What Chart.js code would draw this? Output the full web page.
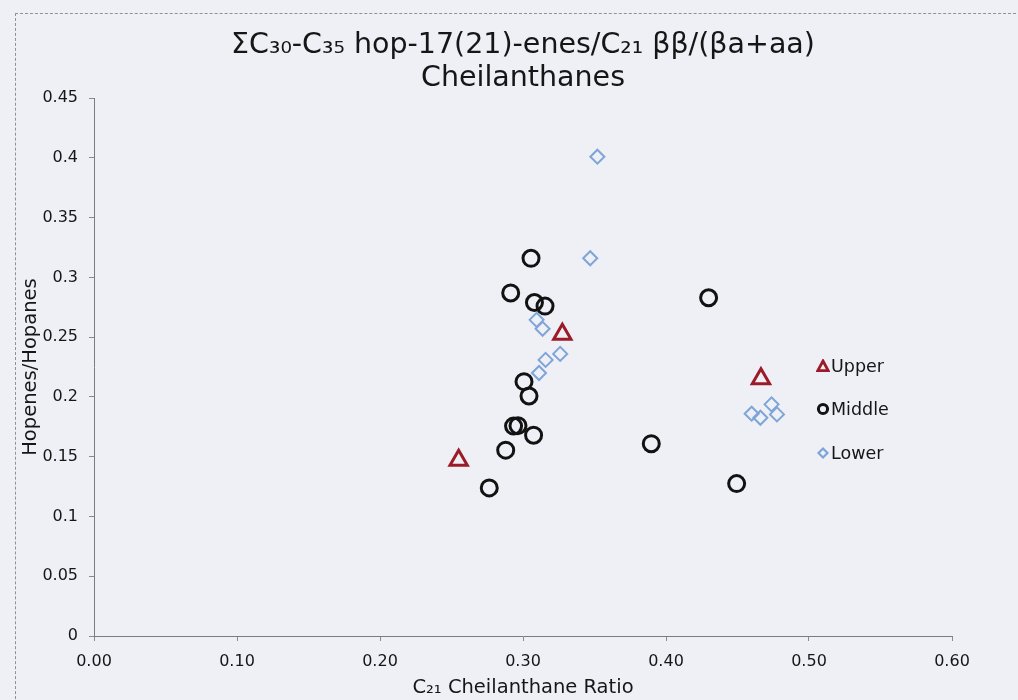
<!DOCTYPE html>
<html><head><meta charset="utf-8">
<script src="https://cdn.jsdelivr.net/npm/chart.js@4/dist/chart.umd.min.js"></script>
<style>
html,body{margin:0;padding:0;background:#eef0f5;}
#wrap{position:relative;width:1018px;height:700px;overflow:hidden;background:#eef0f5;}
#c{position:absolute;left:0;top:0;}
#frame{position:absolute;left:15px;top:13px;width:1010px;height:700px;border-left:1px dashed #8f9198;border-top:1px dashed #8f9198;}
#legend{position:absolute;left:816px;top:344px;font-family:"DejaVu Sans",sans-serif;font-size:17.5px;color:#161616;}
#legend .item{display:flex;align-items:center;height:43.5px;}
#legend svg{margin-right:1px;}
</style>
</head><body>
<div id="wrap">
<div id="frame"></div>
<canvas id="c" width="1018" height="700"></canvas>
<div id="legend"></div>
</div>
<script>
// ---- data ----
const seriesNames = ['Upper', 'Middle', 'Lower'];
const upperX  = [0.255, 0.3275, 0.4664];
const upperY  = [0.147, 0.2525, 0.2153];
const middleX = [0.3056, 0.2914, 0.308, 0.3154, 0.4298, 0.3007, 0.3042, 0.2934, 0.2965, 0.3074, 0.2879, 0.2764, 0.3897, 0.4494];
const middleY = [0.316, 0.287, 0.279, 0.276, 0.283, 0.2128, 0.2008, 0.1756, 0.176, 0.168, 0.1555, 0.1239, 0.1609, 0.1275];
const lowerX  = [0.352, 0.347, 0.3095, 0.3137, 0.326, 0.3158, 0.3112, 0.4599, 0.466, 0.4738, 0.4776];
const lowerY  = [0.401, 0.316, 0.2645, 0.257, 0.236, 0.231, 0.220, 0.186, 0.1826, 0.1938, 0.1854];
const xTickLabels = ['0.00', '0.10', '0.20', '0.30', '0.40', '0.50', '0.60'];
const yTickLabels = ['0', '0.05', '0.1', '0.15', '0.2', '0.25', '0.3', '0.35', '0.4', '0.45'];
const titleLines = ['\u03A3C\u2083\u2080-C\u2083\u2085 hop-17(21)-enes/C\u2082\u2081 \u03B2\u03B2/(\u03B2a+aa)', 'Cheilanthanes'];
const xTitle = 'C\u2082\u2081 Cheilanthane Ratio';
const yTitle = 'Hopenes/Hopanes';

const pts = (xs, ys) => xs.map((x, i) => ({x: x, y: ys[i]}));
const FONT = '"DejaVu Sans", sans-serif';
const TXT = '#161616';

const styles = [
  {pointStyle: 'triangle', radius: 10, borderWidth: 3, color: '#9c1b28'},
  {pointStyle: 'circle',   radius: 8,  borderWidth: 3, color: '#121212'},
  {pointStyle: 'rectRot',  radius: 7,  borderWidth: 2, color: '#7fa5d8'}
];
const dataSets = [pts(upperX, upperY), pts(middleX, middleY), pts(lowerX, lowerY)];

const datasets = seriesNames.map((n, i) => ({
  label: n,
  data: dataSets[i],
  showLine: false,
  pointStyle: styles[i].pointStyle,
  pointRadius: styles[i].radius,
  pointHoverRadius: styles[i].radius,
  pointBorderWidth: styles[i].borderWidth,
  borderColor: styles[i].color,
  pointBorderColor: styles[i].color,
  backgroundColor: 'rgba(0,0,0,0)',
  pointBackgroundColor: 'rgba(0,0,0,0)'
}));

new Chart(document.getElementById('c'), {
  type: 'scatter',
  data: {datasets: datasets},
  options: {
    responsive: false,
    animation: false,
    events: [],
    layout: {padding: {left: 0, right: 66, top: 0, bottom: 0}},
    plugins: {
      legend: {display: false},
      tooltip: {enabled: false},
      title: {
        display: true,
        fullSize: false,
        text: titleLines,
        color: TXT,
        font: {family: FONT, size: 28.5, weight: 'normal', lineHeight: 1.16},
        padding: {top: 29, bottom: 3}
      }
    },
    scales: {
      x: {
        type: 'linear', min: 0, max: 0.6,
        afterFit: s => { s.height = 64; },
        ticks: {stepSize: 0.1, color: TXT, font: {family: FONT, size: 16}, padding: 11,
                callback: (v, i) => xTickLabels[i]},
        grid: {display: true, drawOnChartArea: false, drawTicks: true, tickLength: 5, tickColor: '#8a8a8a'},
        border: {display: true, color: '#7c7c7c', width: 1},
        title: {display: true, text: xTitle, color: TXT, font: {family: FONT, size: 19.5}, padding: {top: 0, bottom: 0}}
      },
      y: {
        type: 'linear', min: 0, max: 0.45,
        afterFit: s => { s.width = 94; },
        ticks: {stepSize: 0.05, color: TXT, font: {family: FONT, size: 16}, padding: 11,
                callback: (v, i) => yTickLabels[i]},
        grid: {display: true, drawOnChartArea: false, drawTicks: true, tickLength: 5, tickColor: '#8a8a8a'},
        border: {display: true, color: '#7c7c7c', width: 1},
        title: {display: true, text: yTitle, color: TXT, font: {family: FONT, size: 19.5}, padding: {top: 19, bottom: 0}}
      }
    }
  }
});

// HTML legend built from the datasets
const svgFor = (st) => {
  const c = st.color;
  if (st.pointStyle === 'triangle') return '<svg width="14" height="14" viewBox="0 0 14 14"><polygon points="7,2 12.2,11.6 1.8,11.6" fill="none" stroke="' + c + '" stroke-width="2.8" stroke-linejoin="miter"/></svg>';
  if (st.pointStyle === 'circle') return '<svg width="14" height="14" viewBox="0 0 14 14"><circle cx="7" cy="7" r="4.6" fill="none" stroke="' + c + '" stroke-width="3"/></svg>';
  return '<svg width="14" height="14" viewBox="0 0 14 14"><polygon points="7,2.5 11.5,7 7,11.5 2.5,7" fill="none" stroke="' + c + '" stroke-width="2.2"/></svg>';
};
document.getElementById('legend').innerHTML = seriesNames.map((n, i) =>
  '<div class="item">' + svgFor(styles[i]) + '<span>' + n + '</span></div>').join('');
</script>
</body></html>
